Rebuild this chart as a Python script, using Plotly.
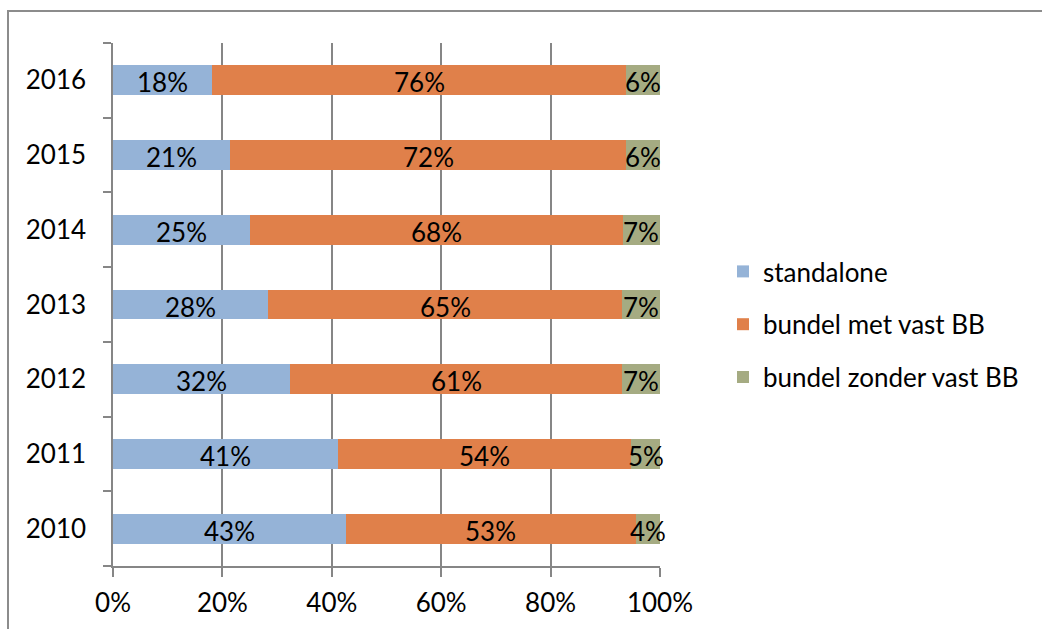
import plotly.graph_objects as go

years = ["2010", "2011", "2012", "2013", "2014", "2015", "2016"]
standalone = [42.6, 41.1, 32.4, 28.3, 25.0, 21.4, 18.1]
bundel_met = [53.0, 53.6, 60.7, 64.8, 68.2, 72.4, 75.7]
bundel_zonder = [4.4, 5.3, 6.9, 6.9, 6.8, 6.2, 6.2]
series_names = ["standalone", "bundel met vast BB", "bundel zonder vast BB"]
colors = ["#95B3D7", "#E0804A", "#A5AB82"]
x_ticks = [0, 20, 40, 60, 80, 100]
x_ticklabels = ["0%", "20%", "40%", "60%", "80%", "100%"]

FONT = "Lato"
FS = 26
W, H = 1042, 629
L, R, T, B = 113, 660, 43, 566

series = [standalone, bundel_met, bundel_zonder]

fig = go.Figure()
for name, vals, col in zip(series_names, series, colors):
    fig.add_trace(go.Bar(
        y=years, x=vals, name=name, orientation="h",
        marker=dict(color=col, line=dict(width=0)),
        legendgroup=name,
        hoverinfo="skip",
    ))

# data labels centred on each segment (positions derived from the data)
annotations = []
base = [0.0] * len(years)
for vals in series:
    for i, (b, v) in enumerate(zip(base, vals)):
        annotations.append(dict(
            x=b + v / 2, y=i, xref="x", yref="y",
            text=f"{round(v):.0f}%", showarrow=False,
            xanchor="center", yanchor="middle", yshift=-2,
            font=dict(family=FONT, size=FS, color="black"),
        ))
    base = [b + v for b, v in zip(base, vals)]

pw = R - L
ph = B - T
def px_x(px):
    return (px - L) / pw
def px_y(py):
    return (B - py) / ph

fig.update_layout(
    width=W, height=H,
    barmode="stack", bargap=0.6,
    margin=dict(l=L, r=W - R, t=T, b=H - B, pad=0),
    paper_bgcolor="white", plot_bgcolor="white",
    font=dict(family=FONT, size=FS, color="black"),
    showlegend=True,
    legend=dict(
        x=px_x(723), y=px_y(248), xanchor="left", yanchor="top",
        traceorder="grouped", tracegroupgap=16,
        font=dict(family=FONT, size=FS, color="black"),
        bgcolor="rgba(0,0,0,0)",
    ),
    annotations=annotations,
    xaxis=dict(
        range=[0, 100], tickvals=x_ticks, ticktext=x_ticklabels,
        showgrid=True, gridcolor="#868686", gridwidth=1.5,
        zeroline=False, showline=True, linecolor="#868686", linewidth=1.5,
        ticks="outside", ticklen=9, tickcolor="#868686", tickwidth=1.5,
        ticklabelstandoff=4,
        tickfont=dict(family=FONT, size=FS, color="black"),
        fixedrange=True,
    ),
    yaxis=dict(
        type="category",
        categoryorder="array", categoryarray=years,
        range=[-0.5, len(years) - 0.5],
        showgrid=False, zeroline=False,
        showline=True, linecolor="#868686", linewidth=1.5,
        ticks="outside", ticklen=8, tickcolor="#868686", tickwidth=1.5,
        tickson="boundaries", ticklabelstandoff=20,
        tickfont=dict(family=FONT, size=FS, color="black"),
        fixedrange=True,
    ),
    shapes=[dict(
        type="path", xref="paper", yref="paper",
        path=f"M {px_x(8)} {px_y(640)} L {px_x(8)} {px_y(11)} L {px_x(1050)} {px_y(11)}",
        line=dict(color="#8C8C8C", width=2),
    )],
)

fig.write_html("out.html")
